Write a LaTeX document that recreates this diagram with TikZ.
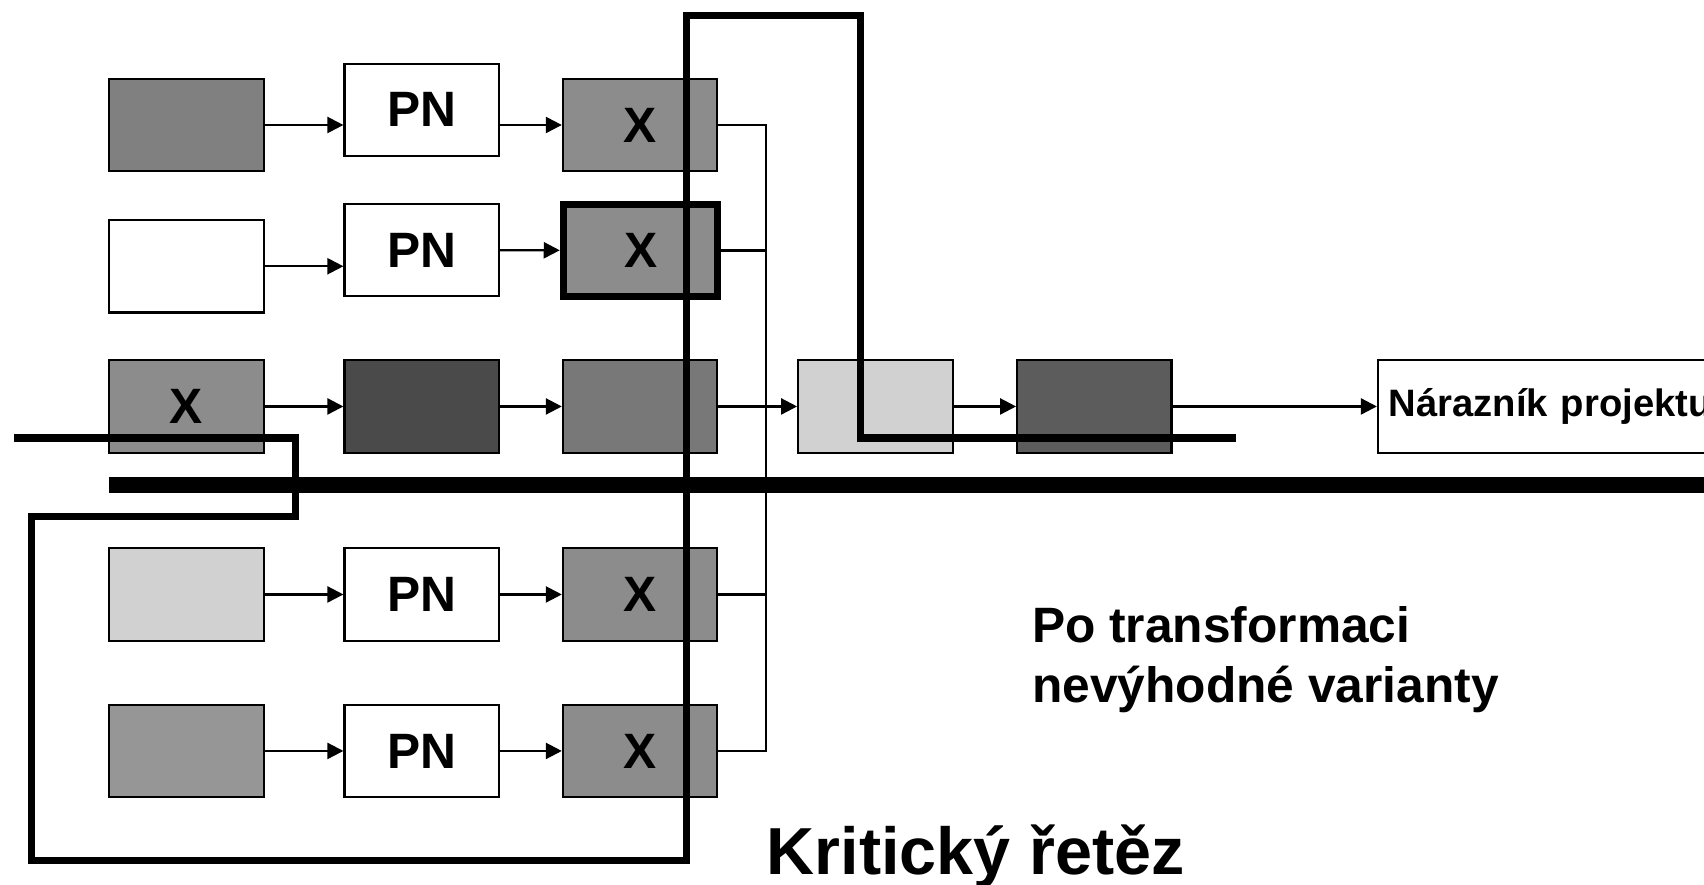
\documentclass[tikz,border=0pt]{standalone}
\usepackage{fontspec}
\setmainfont{Liberation Sans}
\usetikzlibrary{arrows.meta}

\definecolor{grayA}{gray}{0.50}
\definecolor{grayX}{gray}{0.55}
\definecolor{grayB}{gray}{0.59}
\definecolor{grayC}{gray}{0.29}
\definecolor{grayD}{gray}{0.47}
\definecolor{grayE}{gray}{0.82}
\definecolor{grayF}{gray}{0.36}

\tikzset{
  box/.style={draw, line width=0.55pt, minimum width=1.42cm, minimum height=0.85cm,
    inner sep=0pt, font=\bfseries\fontsize{13}{15.6}\selectfont},
  arr/.style={-{Triangle[length=4.2pt,width=4.2pt]}, line width=0.6pt},
  wire/.style={line width=0.6pt},
  critline/.style={line width=1.9pt},
}

\begin{document}
\begin{tikzpicture}[x=0.01cm, y=-0.01cm]
        \path[use as bounding box, clip] (0,0) rectangle (1568,814);
        % first row
        \node[box, fill=grayA] (a1) at (171.5,115) {};
        \node[box, fill=white] (p1) at (388,101) {PN};
        \node[box, fill=grayX] (x1) at (589,115) {X};
        % second row
        \node[box, fill=white] (a2) at (171.5,245) {};
        \node[box, fill=white] (p2) at (388,230) {PN};
        \node[box, fill=grayX, line width=1.9pt] (x2) at (589.5,230.5) {X};
        % third row
        \node[box, fill=grayX] (a3) at (171.5,374) {X};
        \node[box, fill=grayC] (b3) at (388,374) {};
        \node[box, fill=grayD] (c3) at (589,374) {};
        \node[box, fill=grayE] (d3) at (805.5,374) {};
        \node[box, fill=grayF] (e3) at (1007,374) {};
        \node[box, fill=white, anchor=west, text width=3.5cm, align=left,
              inner xsep=0.1cm, font=\bfseries\fontsize{10}{12}\selectfont]
              (buf) at (1267,374) {Nárazník projektu};
        % fourth and fifth row
        \node[box, fill=grayE] (a4) at (171.5,547) {};
        \node[box, fill=white] (p4) at (388,547) {PN};
        \node[box, fill=grayX] (x4) at (589,547) {X};
        \node[box, fill=grayB] (a5) at (171.5,691) {};
        \node[box, fill=white] (p5) at (388,691) {PN};
        \node[box, fill=grayX] (x5) at (589,691) {X};

        \draw[arr] (a1) -- (a1 -| p1.west);
        \draw[arr] (x1 -| p1.east) -- (x1);
        \draw[arr] (a2) -- (a2 -| p2.west);
        \draw[arr] (p2) -- (x2);
        \draw[arr] (a3) -- (b3);
        \draw[arr] (b3) -- (c3);
        \draw[arr] (c3) -- (d3);
        \draw[arr] (d3) -- (e3);
        \draw[arr] (e3) -- (buf);
        \draw[arr] (a4) -- (p4);
        \draw[arr] (p4) -- (x4);
        \draw[arr] (a5) -- (p5);
        \draw[arr] (p5) -- (x5);

        % joining line of the feeding chains
        \coordinate (bus) at (705,0);
        \draw[wire] (x1.east) -| (bus |- x5.east) -- (x5.east);
        \draw[wire] (x2.east) -- (x2.east -| bus);
        \draw[wire] (x4.east) -- (x4.east -| bus);

        \draw[line width=4.2pt] (100,446) -- (1568,446);

        % critical chain outline
        \draw[critline] (13,403) -- (272,403) -- (272,475) -- (29,475) -- (29,792)
            -- (632,792) -- (632,14) -- (792,14) -- (792,403) -- (1137,403);

        \node[anchor=west, inner sep=0pt, align=left,
              font=\bfseries\fontsize{13}{15.6}\selectfont] (note) at (949,607)
              {Po transformaci\\nevýhodné varianty};
        \node[anchor=base west, inner sep=0pt,
              font=\bfseries\fontsize{17.4}{20}\selectfont] (title) at (705,805)
              {Kritický řetěz};
\end{tikzpicture}
\end{document}
